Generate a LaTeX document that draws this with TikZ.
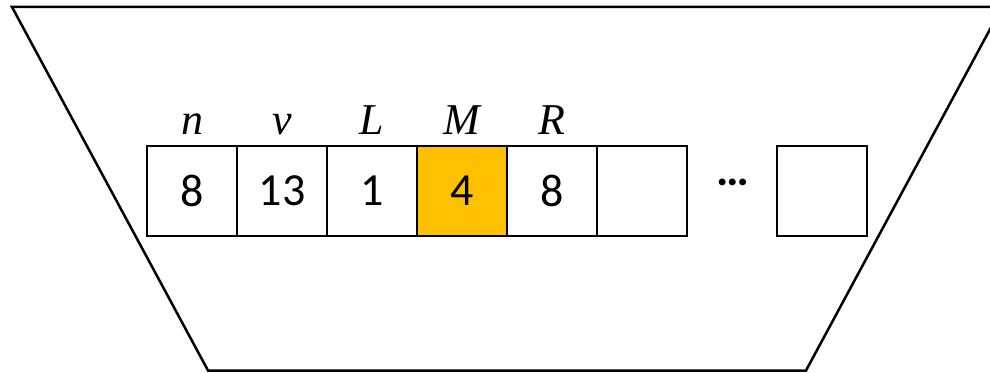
\documentclass[tikz,border=0pt]{standalone}
\usepackage{fontspec}
\setmainfont{Carlito}
\newfontfamily\lblfont{Liberation Serif}
\definecolor{gold}{HTML}{FFC000}
\begin{document}
\begin{tikzpicture}[x=1pt,y=1pt,
  cell/.style={draw=black,line width=2pt,minimum width=90pt,minimum height=90pt,inner sep=0pt,font=\fontsize{46}{48}\selectfont},
  lbl/.style={inner sep=0pt,font=\lblfont\itshape\fontsize{44}{48}\selectfont}]
\useasboundingbox (0,0) rectangle (990,372);
\begin{scope}
\clip (0,0) rectangle (990,372);
\draw[line width=2.5pt,line join=miter] (12,365) -- (1002,365) -- (806,1.5) -- (208,1.5) -- cycle;
\end{scope}
\node[cell] (b1) at (192,181) {8};
\node[cell] (b2) at (282,181) {13};
\node[cell] (b3) at (372,181) {1};
\node[cell,fill=gold] (b4) at (462,181) {4};
\node[cell] (b5) at (552,181) {8};
\node[cell] (b6) at (642,181) {};
\node[cell] (b7) at (822,181) {};
\node[inner sep=0pt,font=\bfseries\fontsize{46}{48}\selectfont] (dots) at (733,190) {\ldots};
\node[lbl,anchor=base] (ln) at (192,237) {n};
\node[lbl,anchor=base] (lv) at (282,237) {v};
\node[lbl,anchor=base] (lL) at (372,237) {L};
\node[lbl,anchor=base] (lM) at (462,237) {M};
\node[lbl,anchor=base] (lR) at (552,237) {R};
\end{tikzpicture}
\end{document}
